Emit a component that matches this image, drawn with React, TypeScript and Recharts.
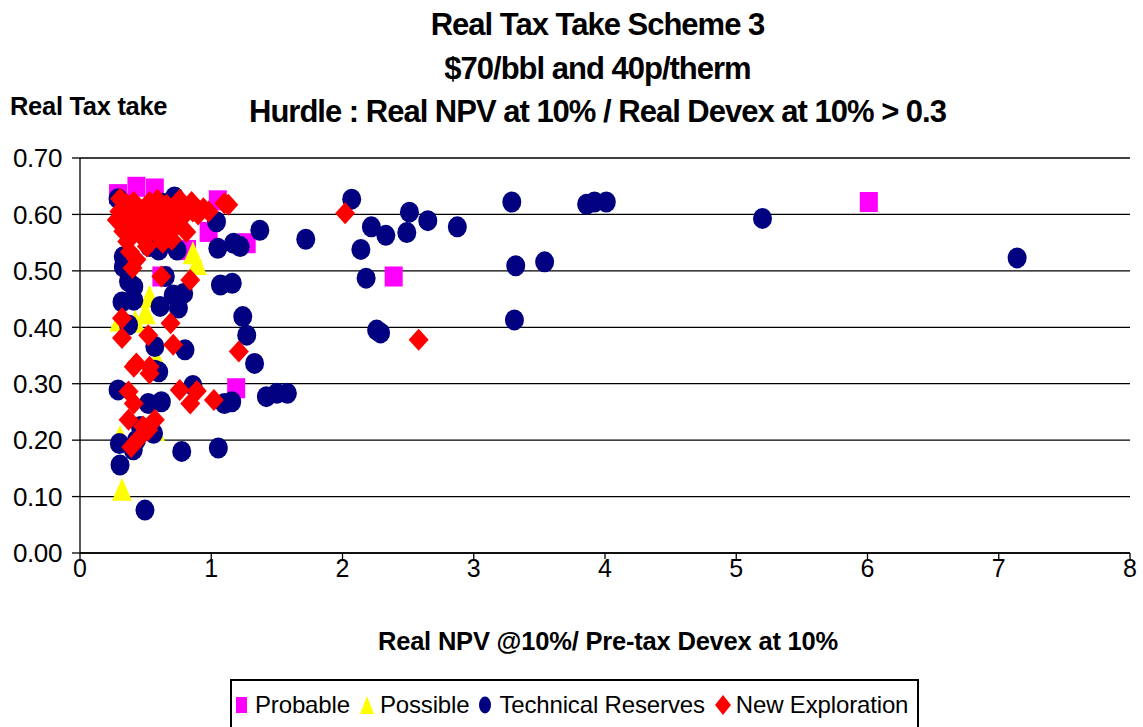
import React from "react";
import {
  ScatterChart,
  Scatter,
  XAxis,
  YAxis,
  CartesianGrid,
  Legend,
} from "recharts";

// ---- Data (x = Real NPV@10% / Pre-tax Devex@10%, y = Real Tax take) ----
const probable: [number, number][] = [
  [0.29, 0.636], [0.43, 0.649], [0.57, 0.646], [1.05, 0.625], [0.98, 0.569],
  [1.27, 0.549], [0.62, 0.49], [0.815, 0.537], [1.19, 0.292], [2.39, 0.49],
  [6.01, 0.622],
];

const possible: [number, number][] = [
  [0.86, 0.531], [0.89, 0.512], [0.53, 0.454], [0.5, 0.425], [0.3, 0.412],
  [0.42, 0.41], [0.584, 0.342], [0.32, 0.112], [0.305, 0.206], [0.57, 0.218],
  [0.6, 0.555],
];

const technicalReserves: [number, number][] = [
  [7.14, 0.523], [5.2, 0.593], [4.01, 0.622], [3.92, 0.622], [3.86, 0.618],
  [3.29, 0.622], [3.54, 0.516], [3.32, 0.509], [3.31, 0.413], [2.875, 0.578],
  [2.65, 0.589], [2.51, 0.604], [2.49, 0.568], [2.33, 0.563], [2.22, 0.578],
  [2.14, 0.538], [2.18, 0.487], [2.26, 0.395], [2.29, 0.39], [2.07, 0.627],
  [1.72, 0.556], [1.37, 0.572],
  [1.04, 0.587], [1.05, 0.54], [1.17, 0.549], [1.22, 0.543], [1.07, 0.475],
  [1.16, 0.478], [1.24, 0.419], [1.27, 0.386], [1.33, 0.336], [1.42, 0.277],
  [1.5, 0.283], [1.58, 0.283], [1.1, 0.265], [1.156, 0.268], [1.054, 0.186],
  [0.86, 0.297], [0.8, 0.36], [0.775, 0.18],
  [0.57, 0.366], [0.57, 0.324], [0.6, 0.321], [0.29, 0.289], [0.52, 0.265],
  [0.62, 0.268], [0.43, 0.2], [0.3, 0.194], [0.305, 0.156], [0.495, 0.076],
  [0.56, 0.212], [0.46, 0.224], [0.406, 0.183],
  [0.6, 0.537], [0.74, 0.537], [0.53, 0.543], [0.33, 0.525], [0.33, 0.507],
  [0.37, 0.481], [0.41, 0.472], [0.32, 0.445], [0.41, 0.448], [0.61, 0.437],
  [0.71, 0.457], [0.79, 0.46], [0.75, 0.434], [0.37, 0.404], [0.65, 0.49],
  [0.29, 0.628], [0.72, 0.631], [0.63, 0.62], [0.65, 0.56],
];

const newExploration: [number, number][] = [
  [2.02, 0.602], [2.58, 0.378], [1.21, 0.357], [1.02, 0.271], [0.84, 0.265],
  [0.89, 0.287], [0.76, 0.289], [0.71, 0.369], [0.69, 0.407], [0.62, 0.49],
  [0.84, 0.484], [0.32, 0.416], [0.32, 0.381], [0.52, 0.386], [0.43, 0.336],
  [0.53, 0.33], [0.41, 0.33], [0.53, 0.318], [0.37, 0.286], [0.41, 0.265],
  [0.37, 0.236], [0.48, 0.224], [0.57, 0.236], [0.39, 0.188], [0.46, 0.206],
  [0.52, 0.218],
  [0.305, 0.628], [0.28, 0.59], [0.36, 0.552], [0.43, 0.52], [0.4, 0.505],
  [0.86, 0.605], [1.1, 0.62], [1.13, 0.617], [0.76, 0.626], [0.66, 0.617],
  [0.53, 0.622], [0.41, 0.622], [0.48, 0.593], [0.61, 0.587], [0.74, 0.581],
  [0.81, 0.569], [0.38, 0.575], [0.46, 0.563], [0.58, 0.566], [0.69, 0.569],
  [0.38, 0.534], [0.51, 0.543], [0.94, 0.611], [0.3, 0.605], [0.35, 0.6],
  [0.45, 0.61], [0.6, 0.605], [0.7, 0.6], [0.8, 0.6], [0.9, 0.6],
  [0.56, 0.6], [0.64, 0.595], [0.72, 0.612], [0.78, 0.615], [0.98, 0.605],
  [0.33, 0.57], [0.42, 0.58], [0.55, 0.58], [0.66, 0.58], [0.5, 0.56],
  [0.63, 0.55], [0.7, 0.555], [0.36, 0.618], [0.59, 0.626], [0.85, 0.622],
];

const xTicks = [0, 1, 2, 3, 4, 5, 6, 7, 8];
const yTicks = [0, 0.1, 0.2, 0.3, 0.4, 0.5, 0.6, 0.7];

const titleLines = [
  "Real Tax Take Scheme 3",
  "$70/bbl and 40p/therm",
  "Hurdle : Real NPV at 10% / Real Devex at 10% > 0.3",
];
const yAxisTitle = "Real Tax take";
const xAxisTitle = "Real NPV @10%/ Pre-tax Devex at 10%";

const seriesNames = ["Probable", "Possible", "Technical Reserves", "New Exploration"];

const toPts = (arr: [number, number][]) => arr.map(([x, y]) => ({ x, y }));

const FONT = "'Liberation Sans', Arial, Helvetica, sans-serif";
const MAGENTA = "#FF00FF";
const YELLOW = "#FFFF00";
const NAVY = "#000080";
const RED = "#FF0000";

const SquareShape = (p: any) => (
  <rect x={p.cx - 9} y={p.cy - 10} width={18} height={20} fill={MAGENTA} />
);
const TriangleShape = (p: any) => (
  <polygon
    points={`${p.cx},${p.cy - 12} ${p.cx + 10},${p.cy + 11} ${p.cx - 10},${p.cy + 11}`}
    fill={YELLOW}
  />
);
const EllipseShape = (p: any) => (
  <ellipse cx={p.cx} cy={p.cy} rx={9.5} ry={10.5} fill={NAVY} />
);
const DiamondShape = (p: any) => (
  <polygon
    points={`${p.cx},${p.cy - 11} ${p.cx + 10},${p.cy} ${p.cx},${p.cy + 11} ${p.cx - 10},${p.cy}`}
    fill={RED}
  />
);

const LegendIcon = ({ kind }: { kind: number }) => {
  if (kind === 0)
    return (
      <svg width={14} height={18} style={{ marginRight: 6, flexShrink: 0 }}>
        <rect x={1} y={1} width={11} height={16} fill={MAGENTA} />
      </svg>
    );
  if (kind === 1)
    return (
      <svg width={16} height={20} style={{ marginRight: 5, flexShrink: 0 }}>
        <polygon points="8,1 15,19 1,19" fill={YELLOW} />
      </svg>
    );
  if (kind === 2)
    return (
      <svg width={14} height={20} style={{ marginRight: 7, flexShrink: 0 }}>
        <ellipse cx={7} cy={10} rx={6} ry={8.5} fill={NAVY} />
      </svg>
    );
  return (
    <svg width={18} height={22} style={{ marginRight: 4, flexShrink: 0 }}>
      <polygon points="9,1 17,11 9,21 1,11" fill={RED} />
    </svg>
  );
};

const LegendContent = () => (
  <div
    style={{
      boxSizing: "border-box",
      width: 689,
      height: 60,
      border: "2px solid #000",
      background: "#fff",
      display: "flex",
      flexWrap: "nowrap",
      alignItems: "flex-start",
      paddingTop: 10,
      paddingLeft: 3,
      fontFamily: FONT,
      fontSize: 24,
      letterSpacing: -0.15,
      color: "#000",
      whiteSpace: "nowrap",
      overflow: "hidden",
    }}
  >
    {seriesNames.map((n, i) => (
      <div
        key={n}
        style={{ display: "flex", alignItems: "center", marginRight: 9, flexShrink: 0, whiteSpace: "nowrap" }}
      >
        <LegendIcon kind={i} />
        <span>{n}</span>
      </div>
    ))}
  </div>
);

export default function App() {
  return (
    <div
      style={{
        position: "absolute",
        left: 0,
        top: 0,
        width: 1143,
        height: 727,
        background: "#fff",
        overflow: "hidden",
        fontFamily: FONT,
      }}
    >
      {titleLines.map((t, i) => (
        <div
          key={t}
          style={{
            position: "absolute",
            left: 0,
            width: 1195,
            top: 7 + i * 43.5,
            textAlign: "center",
            fontWeight: "bold",
            fontSize: 31,
            letterSpacing: -1,
            lineHeight: "36px",
            color: "#000",
          }}
        >
          {t}
        </div>
      ))}
      <div
        style={{
          position: "absolute",
          left: 10,
          top: 91,
          fontWeight: "bold",
          fontSize: 25.5,
          letterSpacing: -0.3,
          lineHeight: "30px",
          color: "#000",
        }}
      >
        {yAxisTitle}
      </div>
      <div
        style={{
          position: "absolute",
          left: 0,
          width: 1216,
          top: 625,
          textAlign: "center",
          fontWeight: "bold",
          fontSize: 25.5,
          letterSpacing: -0.2,
          lineHeight: "32px",
          color: "#000",
        }}
      >
        {xAxisTitle}
      </div>
      <div style={{ position: "absolute", left: 0, top: 0 }}>
        <ScatterChart
          width={1143}
          height={727}
          margin={{ top: 158, right: 13, left: 0, bottom: 144 }}
        >
          <CartesianGrid vertical={false} stroke="#000" strokeWidth={1.3} />
          <XAxis
            type="number"
            dataKey="x"
            domain={[0, 8]}
            ticks={xTicks}
            interval={0}
            height={30}
            allowDataOverflow
            tickSize={6}
            tickMargin={0}
            axisLine={{ stroke: "#000", strokeWidth: 1.3 }}
            tickLine={{ stroke: "#000", strokeWidth: 1.3 }}
            tick={{ fill: "#000", fontSize: 25, fontFamily: FONT }}
          />
          <YAxis
            type="number"
            dataKey="y"
            domain={[0, 0.7]}
            ticks={yTicks}
            interval={0}
            width={80}
            allowDataOverflow
            tickSize={8}
            tickMargin={10}
            tickFormatter={(v: number) => v.toFixed(2)}
            axisLine={{ stroke: "#000", strokeWidth: 1.3 }}
            tickLine={{ stroke: "#000", strokeWidth: 1.3 }}
            tick={{ fill: "#000", fontSize: 26, fontFamily: FONT, letterSpacing: -0.4 }}
          />
          <Legend
            layout="horizontal"
            align="center"
            verticalAlign="middle"
            wrapperStyle={{ top: 679, left: 230, width: 689, height: 60, bottom: "auto", right: "auto" }}
            content={() => <LegendContent />}
          />
          <Scatter
            name="Probable"
            data={toPts(probable)}
            fill={MAGENTA}
            shape={SquareShape}
            isAnimationActive={false}
          />
          <Scatter
            name="Possible"
            data={toPts(possible)}
            fill={YELLOW}
            shape={TriangleShape}
            isAnimationActive={false}
          />
          <Scatter
            name="Technical Reserves"
            data={toPts(technicalReserves)}
            fill={NAVY}
            shape={EllipseShape}
            isAnimationActive={false}
          />
          <Scatter
            name="New Exploration"
            data={toPts(newExploration)}
            fill={RED}
            shape={DiamondShape}
            isAnimationActive={false}
          />
        </ScatterChart>
      </div>
    </div>
  );
}
